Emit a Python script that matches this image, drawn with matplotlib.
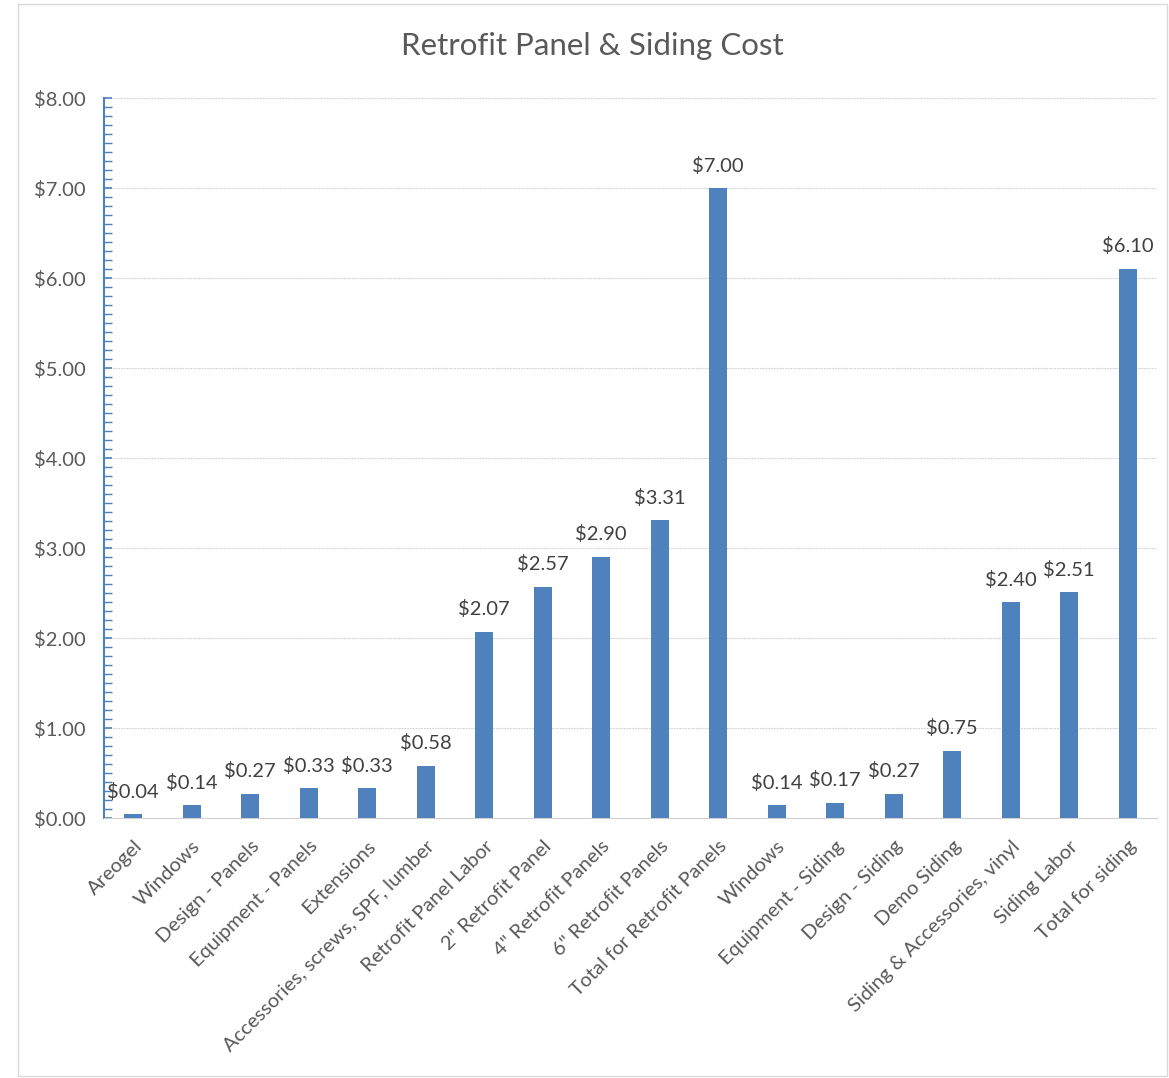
import matplotlib.pyplot as plt
from matplotlib.ticker import MultipleLocator, FuncFormatter

# ---- data ----
categories = [
    "Areogel", "Windows", "Design - Panels", "Equipment - Panels", "Extensions",
    "Accessories, screws, SPF, lumber", "Retrofit Panel Labor", '2" Retrofit Panel',
    '4" Retrofit Panels', '6" Retrofit Panels', "Total for Retrofit Panels",
    "Windows", "Equipment - Siding", "Design - Siding", "Demo Siding",
    "Siding & Accessories, vinyl", "Siding Labor", "Total for siding",
]
costs = [0.04, 0.14, 0.27, 0.33, 0.33, 0.58, 2.07, 2.57, 2.90, 3.31, 7.00,
         0.14, 0.17, 0.27, 0.75, 2.40, 2.51, 6.10]

BAR_COLOR = "#4F81BD"
TEXT_COLOR = "#595959"

plt.rcParams['font.family'] = ['Lato', 'DejaVu Sans']

fig = plt.figure(figsize=(11.69, 10.78), dpi=100)
ax = fig.add_axes([104 / 1169, 1 - 818 / 1078, (1157 - 104) / 1169, (818 - 98) / 1078])

x = list(range(len(categories)))
bars = ax.bar(x, costs, width=0.31, color=BAR_COLOR, zorder=3)

for xi, v in zip(x, costs):
    ax.text(xi, v + 0.15, f"${v:.2f}", ha="center", va="bottom",
            fontsize=14.5, color="#404040", zorder=4)

ax.set_xlim(-0.5, len(categories) - 0.5)
ax.set_ylim(0, 8)
ax.yaxis.set_major_locator(MultipleLocator(1))
ax.yaxis.set_minor_locator(MultipleLocator(0.1))
ax.yaxis.set_major_formatter(FuncFormatter(lambda v, p: f"${v:.2f}"))
ax.grid(axis="y", which="major", color="#D0D0D0", linestyle=(0, (1.5, 1)), linewidth=0.8, zorder=0)

ax.set_xticks(x)
ax.set_xticklabels(categories, rotation=45, ha="right", rotation_mode="anchor",
                   fontsize=14.5, color=TEXT_COLOR)
ax.tick_params(axis="x", length=0, pad=14)
ax.tick_params(axis="y", which="major", direction="in", length=6, width=1.2,
               color=BAR_COLOR, labelsize=14.5, labelcolor=TEXT_COLOR, pad=13)
ax.tick_params(axis="y", which="minor", direction="in", length=6, width=1,
               color=BAR_COLOR)

for s in ["top", "right"]:
    ax.spines[s].set_visible(False)
ax.spines["left"].set_color(BAR_COLOR)
ax.spines["left"].set_linewidth(1.5)
ax.spines["bottom"].set_color("#D0D0D0")
ax.spines["bottom"].set_linestyle((0, (1.5, 1)))

fig.text(592 / 1169, 1 - 46 / 1078, "Retrofit Panel & Siding Cost", ha="center",
         va="center", fontsize=22.5, color=TEXT_COLOR)

# chart area border
fig.patches.append(plt.Rectangle((18 / 1169, 2 / 1078), 1 - 20 / 1169, 1 - 6 / 1078,
                                 transform=fig.transFigure, fill=False,
                                 edgecolor="#D9D9D9", linewidth=1))

fig.savefig("out.png", dpi=100)
